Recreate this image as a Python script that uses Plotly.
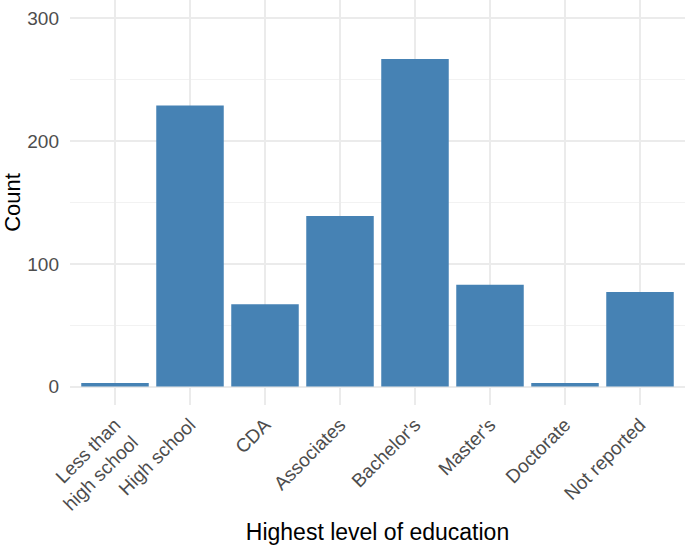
import plotly.graph_objects as go

categories = ["Less than<br>high school", "High school", "CDA", "Associates",
              "Bachelor's", "Master's", "Doctorate", "Not reported"]
counts = [3, 229, 67, 139, 267, 83, 3, 77]
y_ticks = [0, 100, 200, 300]
y_minor = [50, 150, 250]

fig = go.Figure(go.Bar(
    x=categories, y=counts, marker=dict(color="#4682B4", line=dict(width=0)),
    width=0.9, hoverinfo="skip"))

fig.update_layout(
    width=685, height=545,
    margin=dict(l=70, r=0, t=0, b=140, pad=0),
    plot_bgcolor="white", paper_bgcolor="white",
    font=dict(family="Liberation Sans, Arial, sans-serif"),
    showlegend=False,
    bargap=0.1,
)
fig.update_xaxes(
    range=[-0.6, 7.6], tickangle=-45, automargin=False,
    showgrid=True, gridcolor="#EBEBEB", gridwidth=1.5,
    tickfont=dict(size=19, color="#4D4D4D"),
    ticklabelstandoff=4,
    title=dict(text="Highest level of education", font=dict(size=23, color="black"), standoff=12),
    zeroline=False, showline=False, ticks="",
)
fig.update_yaxes(
    range=[-15, 315], tickvals=y_ticks, automargin=False,
    showgrid=True, gridcolor="#EBEBEB", gridwidth=1.5,
    minor=dict(tickvals=y_minor, showgrid=True, gridcolor="#F2F2F2", gridwidth=1),
    tickfont=dict(size=19, color="#4D4D4D"),
    ticklabelstandoff=10,
    title=dict(text="Count", font=dict(size=22, color="black"), standoff=3),
    zeroline=False, showline=False, ticks="",
)

fig.write_html("out.html", config={"displayModeBar": False},
               post_script="document.body.style.margin='0';document.body.style.padding='0';")
